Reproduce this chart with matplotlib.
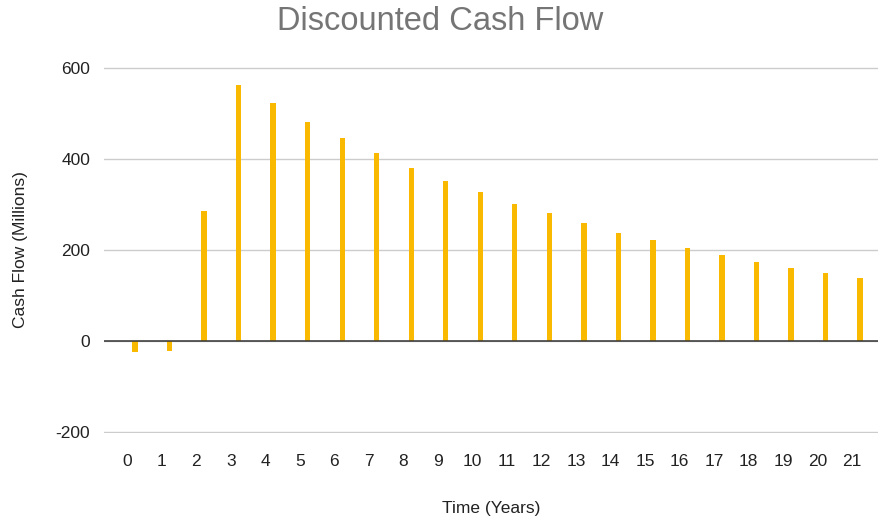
import numpy as np
import matplotlib
matplotlib.use("Agg")
import matplotlib.pyplot as plt

plt.rcParams['font.family'] = ['Liberation Sans', 'DejaVu Sans']
plt.rcParams['axes.unicode_minus'] = False

# values (millions)
years = list(range(22))
cash_flow = [-24, -21, 286, 563, 523, 481, 446, 413, 380, 352, 327, 301,
             281, 259, 237, 222, 204, 188, 174, 160, 149, 139]
tick_labels = [str(y) for y in years]

fig = plt.figure(figsize=(8.81, 5.20), dpi=100)
ax = fig.add_axes([104 / 881, 87 / 520, 774 / 881, 366 / 520])

# bars sit a little to the right of their category label
x = np.array(years) + 0.23
ax.bar(x, cash_flow, width=0.155, color='#F9B900', zorder=3)

ax.set_ylim(-202, 602)
ax.set_xlim(-0.67, 21.75)
ax.set_yticks([-200, 0, 200, 400, 600])
ax.set_xticks(years)
ax.set_xticklabels(tick_labels)

ax.grid(axis='y', color='#cccccc', linewidth=1, zorder=0)
ax.axhline(0, color='#333333', linewidth=1.1, zorder=4)
for s in ax.spines.values():
    s.set_visible(False)
ax.tick_params(length=0, labelsize=12.5, colors='#222222')
ax.tick_params(axis='x', pad=15)
ax.tick_params(axis='y', pad=10)

fig.text(440 / 881, 1 - 22 / 520, 'Discounted Cash Flow', fontsize=23.5,
         color='#757575', ha='center', va='center')
ax.set_xlabel('Time (Years)', fontsize=12.5, color='#222222', labelpad=23)
ax.set_ylabel('Cash Flow (Millions)', fontsize=12.5, color='#222222', labelpad=20)

fig.savefig('out.png', dpi=100)
